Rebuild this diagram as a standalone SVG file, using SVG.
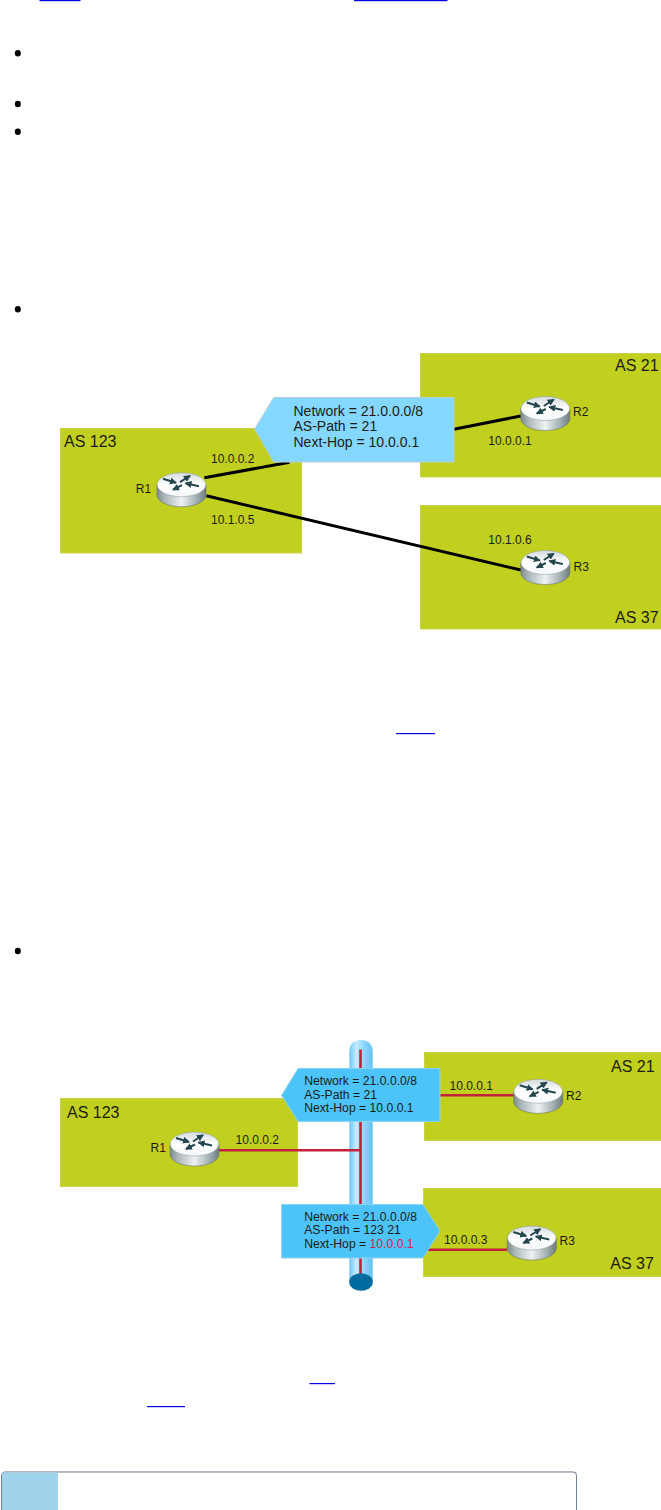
<svg xmlns="http://www.w3.org/2000/svg" width="661" height="1510" viewBox="0 0 661 1510">
<style>
text{font-family:"Liberation Sans",Arial,sans-serif;fill:#1c1c14}
.as{fill:#c1cf1f;stroke:#c9d24a;stroke-width:1}
.t16{font-size:16px}
.t12{font-size:12px}
.t14{font-size:14px}
.t122{font-size:12.2px}
.link{stroke:#000;stroke-width:3;fill:none}
.red{stroke:#c4203a;stroke-width:2.6;fill:none}
.u{fill:#0000e0}
.b{fill:#000}
.c1{fill:#84d8ff;stroke:#b9cdd6;stroke-width:1}
.c2{fill:#4cc4f9;stroke:#8fd4ee;stroke-width:1}
</style>
<defs>
<linearGradient id="body" x1="0" x2="1" y1="0" y2="0">
<stop offset="0" stop-color="#7f8c8f"/><stop offset="0.15" stop-color="#a9b5b8"/><stop offset="0.5" stop-color="#eef2f3"/><stop offset="0.8" stop-color="#a3b0b4"/><stop offset="1" stop-color="#6f7d81"/>
</linearGradient>
<linearGradient id="top" x1="0" x2="0" y1="0" y2="1">
<stop offset="0" stop-color="#d3dade"/><stop offset="0.5" stop-color="#ffffff"/><stop offset="1" stop-color="#f3f6f7"/>
</linearGradient>
<linearGradient id="pipe" x1="0" x2="1" y1="0" y2="0">
<stop offset="0" stop-color="#6fc6f6"/><stop offset="0.3" stop-color="#c8ecff"/><stop offset="0.6" stop-color="#8fd9ff"/><stop offset="1" stop-color="#63c0f3"/>
</linearGradient>
<marker id="ah" markerUnits="userSpaceOnUse" markerWidth="8" markerHeight="8" refX="6" refY="3.5" orient="auto">
<path d="M0 0L7 3.5L0 7Z" fill="#24474f"/>
</marker>
<g id="router">
<path d="M0 12V22C0 29 11 34 24.5 34S49 29 49 22V12Z" fill="url(#body)" stroke="#56666a" stroke-width="0.5"/>
<ellipse cx="24.5" cy="12" rx="24.3" ry="12" fill="url(#top)" stroke="#8a989c" stroke-width="0.5"/>
<g stroke="#24474f" stroke-width="2" marker-end="url(#ah)">
<line x1="6" y1="6" x2="19" y2="10"/>
<line x1="42" y1="13.5" x2="28.5" y2="10.5"/>
<line x1="23" y1="9.5" x2="33" y2="3"/>
<line x1="25" y1="12.5" x2="16" y2="17"/>
</g>
</g>
</defs>
<rect width="661" height="1510" fill="#fff"/>

<g id="page-marks">
<rect class="u" x="39.5" y="0" width="41" height="1.2"/>
<rect class="u" x="354" y="0" width="93.5" height="1.2"/>
<ellipse class="b" cx="17.8" cy="53.3" rx="3" ry="3.3"/>
<ellipse class="b" cx="17.8" cy="104" rx="3" ry="3.3"/>
<ellipse class="b" cx="17.8" cy="131.7" rx="3" ry="3.3"/>
<ellipse class="b" cx="17.8" cy="309.3" rx="3" ry="3.3"/>
<rect class="u" x="396" y="733" width="39" height="1.2"/>
<ellipse class="b" cx="17.8" cy="951" rx="3" ry="3.3"/>
<rect class="u" x="309.5" y="1383" width="25.5" height="1.2"/>
<rect class="u" x="147" y="1406" width="38" height="1.2"/>
</g>

<g id="d1-as123"><rect class="as" x="60.5" y="428.5" width="241" height="124.5"/><text class="t16" x="64" y="446.7">AS 123</text></g>
<g id="d1-as21"><rect class="as" x="420.5" y="353.5" width="241" height="123.5"/><text class="t16" x="615" y="370.7">AS 21</text></g>
<g id="d1-as37"><rect class="as" x="420.5" y="505.5" width="241" height="123.5"/><text class="t16" x="615" y="623">AS 37</text></g>

<g id="d1-connectors">
<line class="link" x1="204.4" y1="477.7" x2="289.5" y2="462.3"/>
<line class="link" x1="454" y1="429.3" x2="520.8" y2="416"/>
<line class="link" x1="206.3" y1="495.7" x2="520.8" y2="570"/>
</g>

<g id="d1-r1"><use href="#router" x="157" y="472.7"/><text class="t12" x="135.8" y="493.3">R1</text></g>
<g id="d1-r2"><use href="#router" x="520.8" y="396.5"/><text class="t12" x="573" y="416.3">R2</text></g>
<g id="d1-r3"><use href="#router" x="520.8" y="550.5"/><text class="t12" x="573.5" y="571">R3</text></g>

<g id="d1-addresses">
<text class="t12" x="211" y="463.3">10.0.0.2</text>
<text class="t12" x="211" y="524.3">10.1.0.5</text>
<text class="t12" x="488.3" y="445">10.0.0.1</text>
<text class="t12" x="488.3" y="544">10.1.0.6</text>
</g>

<g id="d1-update">
<polygon class="c1" points="273.7,397.5 454,397.5 454,462 273.7,462 254.7,429"/>
<text class="t14" x="293.5" y="416">Network = 21.0.0.0/8</text>
<text class="t14" x="293.5" y="431.3">AS-Path = 21</text>
<text class="t14" x="293.5" y="446.7">Next-Hop = 10.0.0.1</text>
</g>

<g id="d2-as123"><rect class="as" x="60.5" y="1098.5" width="237" height="88"/><text class="t16" x="67" y="1117.7">AS 123</text></g>
<g id="d2-as21"><rect class="as" x="424.5" y="1052.5" width="237" height="88"/><text class="t16" x="611" y="1072.3">AS 21</text></g>
<g id="d2-as37"><rect class="as" x="423.5" y="1188.5" width="238" height="88"/><text class="t16" x="610.3" y="1269.3">AS 37</text></g>

<g id="d2-lan">
<path d="M349.3 1282V1052C349.3 1044 354 1040 361 1040S372.7 1044 372.7 1052V1282Z" fill="url(#pipe)"/>
</g>

<g id="d2-connectors">
<line class="red" x1="360.5" y1="1049.5" x2="360.5" y2="1276"/>
<line class="red" x1="218.2" y1="1150.3" x2="360.5" y2="1150.3"/>
<line class="red" x1="440" y1="1095.3" x2="513.7" y2="1095.3"/>
<line class="red" x1="427" y1="1249.7" x2="507" y2="1249.7"/>
</g>

<g id="d2-lan-end"><ellipse cx="361" cy="1282" rx="11.8" ry="8.8" fill="#006b9f"/></g>

<g id="d2-r1"><use href="#router" x="170" y="1132"/><text class="t12" x="150.5" y="1152.3">R1</text></g>
<g id="d2-r2"><use href="#router" x="513.7" y="1079.3"/><text class="t12" x="566" y="1099.7">R2</text></g>
<g id="d2-r3"><use href="#router" x="507.3" y="1226"/><text class="t12" x="559.6" y="1245.3">R3</text></g>

<g id="d2-addresses">
<text class="t12" x="235.6" y="1143.7">10.0.0.2</text>
<text class="t12" x="449.5" y="1089.7">10.0.0.1</text>
<text class="t12" x="444" y="1244">10.0.0.3</text>
</g>

<g id="d2-update-left">
<polygon class="c2" points="298.2,1068.5 440,1068.5 440,1121.5 298.2,1121.5 281.6,1095.3"/>
<text class="t122" x="304.2" y="1085.3">Network = 21.0.0.0/8</text>
<text class="t122" x="304.2" y="1098.7">AS-Path = 21</text>
<text class="t122" x="304.2" y="1112.3">Next-Hop = 10.0.0.1</text>
</g>

<g id="d2-update-right">
<polygon class="c2" points="281.6,1204.5 423,1204.5 440,1231 423,1258 281.6,1258"/>
<text class="t122" x="304.2" y="1221">Network = 21.0.0.0/8</text>
<text class="t122" x="304.2" y="1234.3">AS-Path = 123 21</text>
<text class="t122" x="304.2" y="1247.7">Next-Hop = <tspan style="fill:#d9204a">10.0.0.1</tspan></text>
</g>

<g id="note-box">
<path d="M1 1512V1475Q1 1471 5 1471H573Q577 1471 577 1475V1512" fill="#e9edf1"/>
<path d="M1.5 1512V1475.5Q1.5 1472 5 1472H573Q576.5 1472 576.5 1475.5V1512Z" fill="#fff" stroke="#6f8090" stroke-width="1"/>
<rect x="2" y="1472.5" width="56" height="38" fill="#9fd4ea"/>
</g>
</svg>
